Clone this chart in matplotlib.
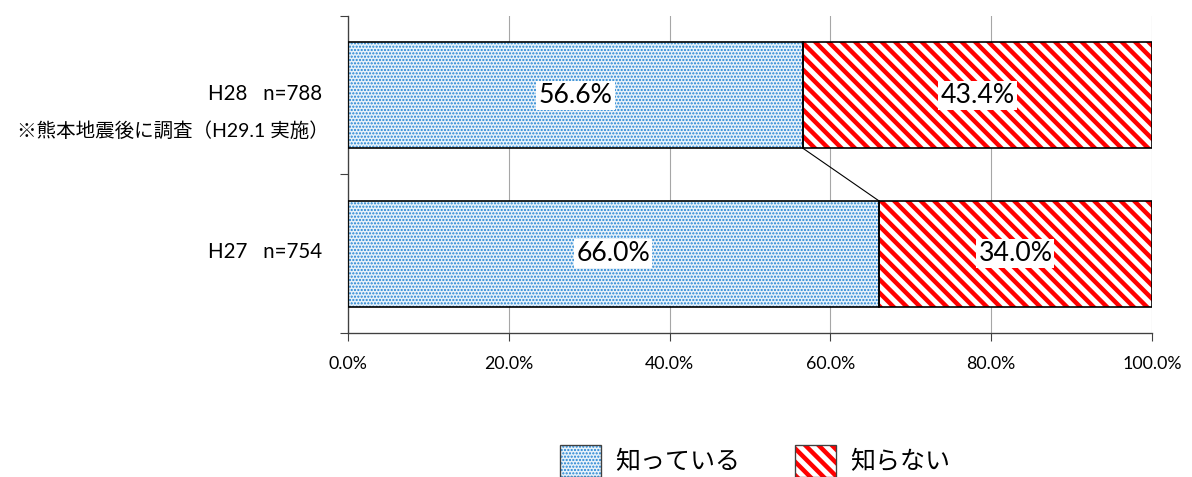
import numpy as np
import matplotlib
matplotlib.use("Agg")
import matplotlib.pyplot as plt
from matplotlib.patches import Patch, Rectangle
from matplotlib.legend_handler import HandlerTuple

plt.rcParams['font.family'] = ['Lato', 'Noto Sans CJK JP', 'DejaVu Sans']

# data
categories = ["H27   n=754", "H28   n=788"]
note_h28 = "※熊本地震後に調査（H29.1 実施）"
series_names = ["知っている", "知らない"]
know = [66.0, 56.6]
not_know = [34.0, 43.4]
x_ticks = [0, 20, 40, 60, 80, 100]

blue = "#1E82D2"
blue_bg = "#E8F2FA"
red = "#FF0000"
bar_h = 0.67
dot_lw = 1.3
stripe_lw = 4.0


def hatched_bar(ax, y, w, left, hatch, color, bg, hlw):
    with plt.rc_context({'hatch.linewidth': hlw}):
        b = ax.barh(y, w, left=left, height=bar_h, color=bg,
                    edgecolor=color, hatch=hatch, linewidth=0, zorder=2)
    for p in b:
        if hasattr(p, "set_hatch_linewidth"):
            p.set_hatch_linewidth(hlw)
    ax.barh(y, w, left=left, height=bar_h, fill=False,
            edgecolor="black", linewidth=1.5, zorder=3)
    return b


fig = plt.figure(figsize=(1192 / 80, 477 / 80), dpi=80)
ax = fig.add_axes([348 / 1192, 1 - 333 / 477, 804 / 1192, 317 / 477])

y = np.arange(len(categories))
know_a = np.array(know) / 100
not_a = np.array(not_know) / 100
hatched_bar(ax, y, know_a, 0, "....", blue, blue_bg, dot_lw)
hatched_bar(ax, y, not_a, know_a, "\\\\", red, "white", stripe_lw)

# connector line between the two bars
ax.plot([know_a[1], know_a[0]], [1 - bar_h / 2, bar_h / 2], color="black", lw=1, zorder=3)

# value labels
for i in range(len(categories)):
    for left, w in [(0, know_a[i]), (know_a[i], not_a[i])]:
        ax.text(left + w / 2, y[i], f"{w * 100:.1f}%", ha="center", va="center",
                fontsize=24, zorder=5,
                bbox=dict(facecolor="white", edgecolor="none", pad=2))

ax.set_xlim(0, 1)
ax.set_ylim(-0.5, 1.5)
ax.set_xticks(np.array(x_ticks) / 100)
ax.set_xticklabels([f"{v:.1f}%" for v in x_ticks], fontsize=16)
ax.set_yticks([-0.5, 0.5, 1.5])
ax.set_yticklabels([])
ax.tick_params(axis="both", direction="out", length=7, color="#404040", width=1)
ax.tick_params(axis="x", pad=14)
ax.xaxis.grid(True, color="#A6A6A6", lw=1)
ax.set_axisbelow(True)
for s in ["top", "right"]:
    ax.spines[s].set_visible(False)
for s in ["left", "bottom"]:
    ax.spines[s].set_color("#404040")
    ax.spines[s].set_linewidth(1.2)

# category labels
for i, c in enumerate(categories):
    ax.text(-0.032, y[i] + 0.01, c, ha="right", va="center", fontsize=18.5,
            transform=ax.get_yaxis_transform())
ax.text(-0.024, 1 - 0.22, note_h28, ha="right", va="center", fontsize=17.5,
        transform=ax.get_yaxis_transform())

# legend
handles = []
for hatch, color, bg, hlw in [("....", blue, blue_bg, dot_lw), ("\\\\", red, "white", stripe_lw)]:
    hp = Patch(facecolor=bg, edgecolor=color, hatch=hatch, linewidth=0)
    op = Patch(fill=False, edgecolor="#404040", linewidth=1.2)
    handles.append((hp, op))
leg = fig.legend(handles, series_names, handler_map={tuple: HandlerTuple(ndivide=1, pad=0)},
                 loc="center", bbox_to_anchor=(755 / 1192, 1 - 461 / 477), ncol=2,
                 frameon=False, fontsize=22.5, handlelength=1.65, handleheight=1.6,
                 handletextpad=0.55, columnspacing=2.2)
for p in leg.findobj(Rectangle):
    if hasattr(p, "set_hatch_linewidth"):
        if p.get_hatch() == "\\\\":
            p.set_hatch_linewidth(stripe_lw)
        elif p.get_hatch() == "....":
            p.set_hatch_linewidth(dot_lw)

fig.savefig("out.png", dpi=80)
